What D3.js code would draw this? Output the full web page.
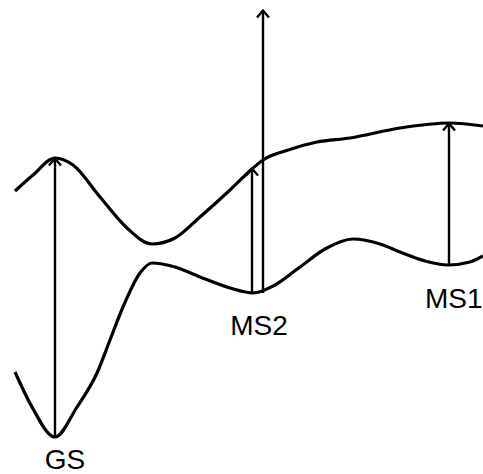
<!DOCTYPE html>
<html>
<head>
<meta charset="utf-8">
<script src="https://cdn.jsdelivr.net/npm/d3@7"></script>
<style>
html,body{margin:0;padding:0;background:#fff;}
svg{display:block;}
</style>
</head>
<body>
<svg id="chart" width="483" height="474"></svg>
<script>
// Reaction coordinate (x) and energy (arbitrary units, higher = up)
const upperX = [15, 33, 55, 73, 100, 127, 152, 175, 200, 230, 252, 263, 285, 317, 350, 400, 450, 483];
const upperE = [283, 299, 316, 309, 277, 246, 230, 236, 257, 284, 305, 314, 323, 332, 336, 346, 351, 348];

const lowerX = [15, 32, 55, 77, 97, 110, 123, 140, 152, 175, 200, 230, 253, 275, 300, 325, 353, 380, 400, 425, 448, 470, 483];
const lowerE = [102, 67, 37, 67, 101, 134, 167, 201, 211, 207, 197, 186, 181, 189, 207, 225, 235, 230, 222, 213, 209, 212, 218];

// Vertical transitions (arrows)
const arrowX    = [55, 252, 263, 449];
const arrowFrom = [37, 181, 181, 209];
const arrowTo   = [316, 306, 464, 351];

// State labels
const labelText = ["GS", "MS2", "MS1"];
const labelX    = [65, 259, 425];
const labelE    = [5, 139, 166];
const labelAnchor = ["middle", "middle", "start"];

const W = 483, H = 474;
const svg = d3.select("#chart");
const x = d3.scaleLinear().domain([0, 483]).range([0, W]);
const y = d3.scaleLinear().domain([0, 474]).range([H, 0]);

const line = d3.line()
  .x(d => x(d[0]))
  .y(d => y(d[1]))
  .curve(d3.curveMonotoneX);

const upper = upperX.map((v, i) => [v, upperE[i]]);
const lower = lowerX.map((v, i) => [v, lowerE[i]]);

svg.append("defs").append("marker")
  .attr("id", "arr")
  .attr("viewBox", "-8 -8 16 16")
  .attr("refX", 0).attr("refY", 0)
  .attr("markerWidth", 16).attr("markerHeight", 16)
  .attr("markerUnits", "userSpaceOnUse")
  .attr("orient", "auto")
  .append("path")
  .attr("d", "M-7,-6 L0,0 L-7,6")
  .attr("fill", "none")
  .attr("stroke", "#000")
  .attr("stroke-width", 2.4)
  .attr("stroke-linejoin", "miter");

svg.selectAll("path.curve")
  .data([upper, lower])
  .join("path")
  .attr("class", "curve")
  .attr("d", line)
  .attr("fill", "none")
  .attr("stroke", "#000")
  .attr("stroke-width", 3.2)
  .attr("stroke-linecap", "butt");

svg.selectAll("line.arrow")
  .data(arrowX.map((v, i) => ({x: v, f: arrowFrom[i], t: arrowTo[i]})))
  .join("line")
  .attr("class", "arrow")
  .attr("x1", d => x(d.x)).attr("x2", d => x(d.x))
  .attr("y1", d => y(d.f)).attr("y2", d => y(d.t) + 0.5)
  .attr("stroke", "#000")
  .attr("stroke-width", 2.4)
  .attr("marker-end", "url(#arr)");

svg.selectAll("text.lbl")
  .data(labelText.map((t, i) => ({t, x: labelX[i], e: labelE[i], a: labelAnchor[i]})))
  .join("text")
  .attr("class", "lbl")
  .attr("x", d => x(d.x))
  .attr("y", d => y(d.e))
  .attr("text-anchor", d => d.a)
  .attr("font-family", "'Liberation Sans', Arial, sans-serif")
  .attr("font-size", 28)
  .attr("fill", "#000")
  .text(d => d.t);
</script>
</body>
</html>
